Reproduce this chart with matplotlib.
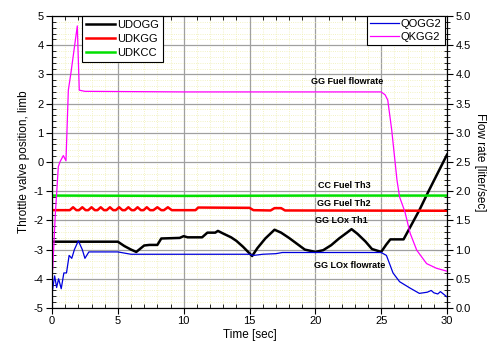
import matplotlib
matplotlib.use("Agg")
import matplotlib.pyplot as plt
from matplotlib.ticker import MultipleLocator, FormatStrFormatter

plt.rcParams['font.family'] = ['Liberation Sans', 'DejaVu Sans']
plt.rcParams['axes.unicode_minus'] = False

# throttle valve positions (left axis, limb)
udogg_t = [0, 5.0, 5.5, 6.0, 6.4, 7.0, 7.4, 8.0, 8.3, 9.7, 10.0, 10.3, 11.4, 11.8, 12.4, 12.6, 13.0,
           13.6, 14.0, 14.5, 15.2, 15.6, 16.2, 16.9, 17.4, 18.0, 18.6, 19.2, 20.0, 20.6, 21.2, 21.8,
           22.4, 22.75, 23.2, 23.8, 24.3, 25.0, 25.4, 25.7, 26.7, 27.3, 27.9, 28.6, 30.0]
udogg_v = [-2.73, -2.73, -2.88, -3.0, -3.08, -2.86, -2.84, -2.84, -2.62, -2.6, -2.54, -2.58, -2.58, -2.42,
           -2.42, -2.36, -2.45, -2.58, -2.7, -2.9, -3.22, -2.95, -2.62, -2.32, -2.42, -2.6, -2.8, -3.0,
           -3.08, -3.02, -2.85, -2.62, -2.42, -2.3, -2.46, -2.72, -2.98, -3.08, -2.82, -2.65, -2.65,
           -2.15, -1.65, -1.0, 0.25]

udkgg_t = [0, 1.35, 1.6, 1.85, 2.05, 2.3, 2.55, 2.75, 3.0, 3.25, 3.45, 3.7, 3.95, 4.15, 4.4, 4.65,
           4.85, 5.1, 5.35, 5.55, 5.8, 6.05, 6.25, 6.5, 6.75, 6.95, 7.2, 7.45, 7.7, 8.0, 8.3, 8.5,
           8.8, 9.1, 10.9, 11.1, 15.0, 15.3, 16.6, 16.9, 17.4, 17.7, 30.0]
udkgg_v = [-1.65, -1.65, -1.55, -1.65, -1.65, -1.55, -1.65, -1.65, -1.55, -1.65, -1.65, -1.55, -1.65,
           -1.65, -1.55, -1.65, -1.65, -1.55, -1.65, -1.65, -1.55, -1.65, -1.65, -1.55, -1.65, -1.65,
           -1.55, -1.65, -1.65, -1.55, -1.65, -1.65, -1.55, -1.65, -1.65, -1.56, -1.57, -1.65, -1.66,
           -1.58, -1.58, -1.66, -1.67]

udkcc_t = [0, 10.0, 20.0, 30.0]
udkcc_v = [-1.15, -1.16, -1.15, -1.15]

# flow rates (right axis, liter/sec)
qogg2_t = [0, 0.2, 0.35, 0.5, 0.7, 0.9, 1.1, 1.3, 1.5, 1.7, 2.0, 2.3, 2.5, 2.8, 5.0, 6.0, 10.0, 15.0,
           15.3, 16.0, 17.0, 17.5, 25.0, 25.4, 25.9, 26.4, 27.2, 27.9, 28.5, 28.8, 29.0, 29.3, 29.5,
           30.0]
qogg2_v = [0.25, 0.55, 0.35, 0.5, 0.33, 0.6, 0.6, 0.9, 0.85, 1.0, 1.15, 1.0, 0.85, 0.96, 0.96, 0.92,
           0.92, 0.92, 0.9, 0.92, 0.93, 0.95, 0.95, 0.9, 0.6, 0.45, 0.34, 0.25, 0.27, 0.3, 0.26, 0.24,
           0.28, 0.19]

qkgg2_t = [0.05, 0.25, 0.48, 0.6, 0.86, 1.06, 1.24, 1.44, 1.92, 2.07, 2.5, 10.0, 20.0, 25.0, 25.3,
           25.5, 25.8, 26.2, 26.4, 26.8, 27.2, 27.7, 28.45, 29.2, 30.0]
qkgg2_v = [0.66, 1.6, 2.42, 2.5, 2.61, 2.52, 3.73, 4.03, 4.83, 3.73, 3.71, 3.7, 3.7, 3.7, 3.65,
           3.56, 3.05, 2.19, 1.9, 1.65, 1.28, 0.99, 0.76, 0.68, 0.63]

annotations = [("GG Fuel flowrate", 22.4, 2.75), ("CC Fuel Th3", 22.2, -0.82),
               ("GG Fuel Th2", 22.2, -1.41), ("GG LOx Th1", 22.0, -2.0),
               ("GG LOx flowrate", 22.6, -3.56)]

fig = plt.figure(figsize=(4.93, 3.48), dpi=100)
ax = fig.add_axes([0.1055, 0.115, 0.8012, 0.839])
ax2 = ax.twinx()

ax.plot(udogg_t, udogg_v, color='black', lw=1.8, label='UDOGG')
ax.plot(udkgg_t, udkgg_v, color='#ff0000', lw=1.8, label='UDKGG')
ax.plot(udkcc_t, udkcc_v, color='#00e000', lw=1.8, label='UDKCC')
ax2.plot(qogg2_t, qogg2_v, color='#0000dd', lw=0.9, label='QOGG2')
ax2.plot(qkgg2_t, qkgg2_v, color='#ff00ff', lw=0.9, label='QKGG2')

ax.set_xlim(0, 30)
ax.set_ylim(-5, 5)
ax2.set_ylim(0, 5)

ax.xaxis.set_major_locator(MultipleLocator(5))
ax.xaxis.set_minor_locator(MultipleLocator(1))
ax.yaxis.set_major_locator(MultipleLocator(1))
ax.yaxis.set_minor_locator(MultipleLocator(0.2))
ax2.yaxis.set_major_locator(MultipleLocator(0.5))
ax2.yaxis.set_minor_locator(MultipleLocator(0.1))
ax2.yaxis.set_major_formatter(FormatStrFormatter('%.1f'))

ax.grid(which='minor', color='#eeeeb0', lw=0.6, ls=':')
ax.grid(which='major', color='#a0a0a0', lw=0.9)
ax.set_axisbelow(True)

ax.tick_params(which='major', direction='out', length=4, labelsize=8, pad=2, top=False)
ax.tick_params(which='minor', direction='in', length=3, top=True)
ax2.tick_params(which='major', direction='out', length=4, labelsize=8, pad=2)
ax2.tick_params(which='minor', direction='inout', length=4)

ax.set_xlabel('Time [sec]', fontsize=8.5, labelpad=2)
ax.set_ylabel('Throttle valve position, limb', fontsize=8.5, labelpad=3)
ax2.set_ylabel('Flow rate [liter/sec]', fontsize=8.5, rotation=270, labelpad=11)

for txt, x, y in annotations:
    ax.text(x, y, txt, fontsize=6.5, fontweight='bold', ha='center', va='center')

leg1 = ax.legend(loc='upper left', bbox_to_anchor=(0.076, 1.0), borderaxespad=0, fontsize=8,
                 fancybox=False, edgecolor='black', framealpha=1, handlelength=2.6,
                 labelspacing=0.35, borderpad=0.35, handletextpad=0.2)
leg1.get_frame().set_linewidth(0.8)
leg2 = ax2.legend(loc='upper right', bbox_to_anchor=(0.995, 1.0), borderaxespad=0, fontsize=8,
                  fancybox=False, edgecolor='black', framealpha=1, handlelength=2.6,
                  labelspacing=0.2, borderpad=0.3, handletextpad=0.2)
leg2.get_frame().set_linewidth(0.8)

fig.savefig('out.png', dpi=100)
